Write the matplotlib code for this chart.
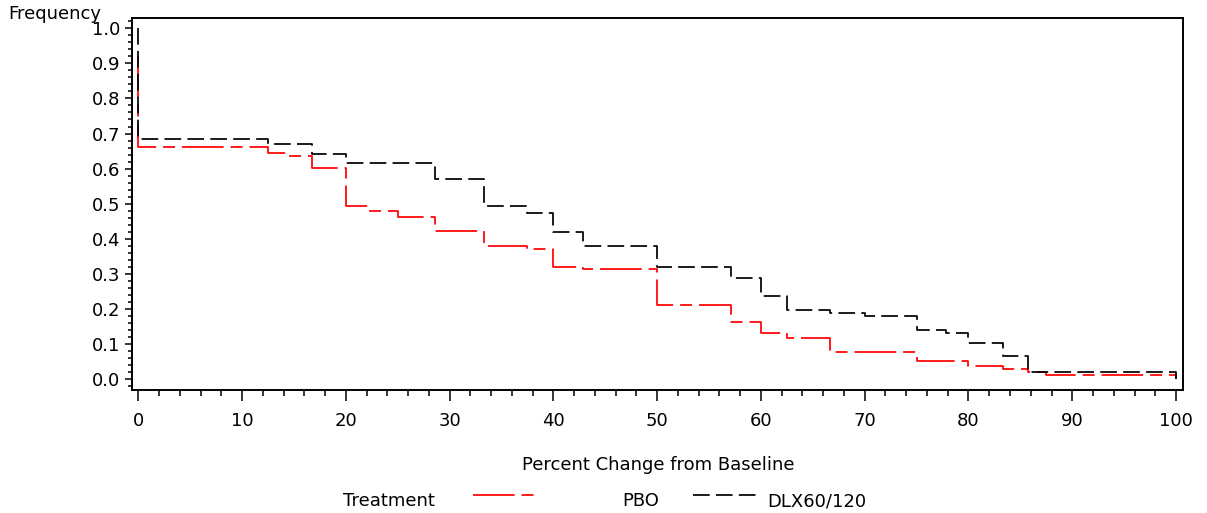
import matplotlib
matplotlib.use("Agg")
import matplotlib.pyplot as plt
from matplotlib.lines import Line2D
from matplotlib.ticker import MultipleLocator, FormatStrFormatter

# step data: x = percent change where the step happens
pbo_x = [0, 0, 12.5, 14.3, 16.7, 20, 22.2, 25, 28.6, 33.3, 37.5, 40, 42.9, 50,
         57.1, 60, 62.5, 66.7, 75, 80, 83.3, 85.7, 87.5, 100]
pbo_y = [0.92, 0.663, 0.644, 0.636, 0.603, 0.494, 0.480, 0.463, 0.423, 0.380,
         0.371, 0.321, 0.313, 0.212, 0.164, 0.133, 0.119, 0.079, 0.052, 0.039,
         0.031, 0.022, 0.014, 0.0]

dlx_x = [0, 0, 12.5, 16.7, 20, 28.6, 33.3, 37.5, 40, 42.9, 50, 57.1, 60, 62.5,
         66.7, 70, 75, 77.8, 80, 83.3, 85.7, 100]
dlx_y = [1.0, 0.684, 0.670, 0.642, 0.617, 0.570, 0.494, 0.473, 0.421, 0.380,
         0.321, 0.288, 0.238, 0.199, 0.190, 0.181, 0.140, 0.131, 0.105, 0.067,
         0.020, 0.0]

plt.rcParams['font.family'] = ['DejaVu Sans']
plt.rcParams['lines.scale_dashes'] = False

W, H = 1207, 513
fs = 13
fig = plt.figure(figsize=(W / 100, H / 100), dpi=100)
ax = fig.add_axes([132.3 / W, (H - 390) / H, (1183.3 - 132.3) / W, (390 - 18.3) / H])

red_dash = (0, (30, 5, 8.6, 5))
blk_dash = (0, (12, 4.5))

ax.plot(pbo_x, pbo_y, drawstyle='steps-post', color='#ff0000', lw=1.25, linestyle=red_dash)
ax.plot(dlx_x, dlx_y, drawstyle='steps-post', color='black', lw=1.25, linestyle=blk_dash)

ax.set_xlim(-0.58, 100.7)
ax.set_ylim(-0.030, 1.028)

ax.xaxis.set_major_locator(MultipleLocator(10))
ax.xaxis.set_minor_locator(MultipleLocator(2))
ax.yaxis.set_major_locator(MultipleLocator(0.1))
ax.yaxis.set_minor_locator(MultipleLocator(0.02))
ax.yaxis.set_major_formatter(FormatStrFormatter('%.1f'))

ax.tick_params(axis='both', which='major', direction='out', width=1.1, labelsize=fs)
ax.tick_params(axis='x', which='major', length=8, pad=8)
ax.tick_params(axis='x', which='minor', length=4, width=1.1)
ax.tick_params(axis='y', which='major', length=5, pad=3.5)
ax.tick_params(axis='y', which='minor', length=3, width=1.1)

for s in ax.spines.values():
    s.set_linewidth(1.4)

ax.set_xlabel('Percent Change from Baseline', fontsize=fs, va='center')
ax.xaxis.set_label_coords(0.5, -(465 - 390) / (390 - 18.3))

fig.text(8 / W, 1 - 19 / H, 'Frequency', fontsize=fs, ha='left', va='baseline')

# legend row along the bottom
ly = 1 - 501 / H
fig.text(389 / W, ly, 'Treatment', fontsize=fs, ha='center', va='center')
fig.add_artist(Line2D([473 / W, 535 / W], [1 - 495 / H] * 2, transform=fig.transFigure,
                      color='#ff0000', lw=1.25, linestyle=red_dash))
fig.text(641 / W, ly, 'PBO', fontsize=fs, ha='center', va='center')
fig.add_artist(Line2D([693 / W, 756 / W], [1 - 495 / H] * 2, transform=fig.transFigure,
                      color='black', lw=1.25, linestyle=blk_dash))
fig.text(817 / W, ly, 'DLX60/120', fontsize=fs, ha='center', va='center')

fig.savefig('out.png', dpi=100)
